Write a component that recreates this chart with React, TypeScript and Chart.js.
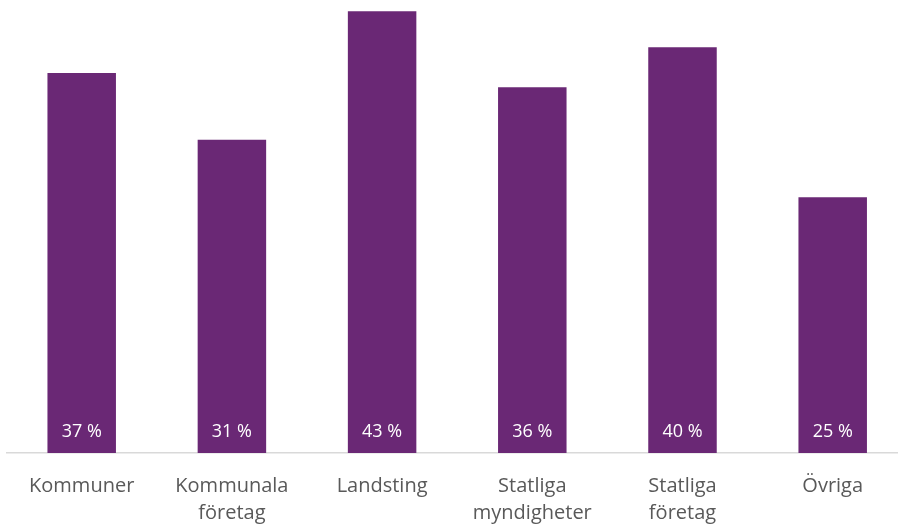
import React, { useEffect, useRef } from "react";
import { Chart, registerables } from "chart.js";

Chart.register(...registerables);

const categories: string[][] = [
  ["Kommuner"],
  ["Kommunala", "företag"],
  ["Landsting"],
  ["Statliga", "myndigheter"],
  ["Statliga", "företag"],
  ["Övriga"],
];
const shares: number[] = [37, 30.5, 43, 35.6, 39.5, 24.9];
const yMax = 44;

const barColor = "#6A2875";
const textGray = "#595959";
const fontFamily = "'Open Sans', 'DejaVu Sans', sans-serif";

const valueLabels = {
  id: "valueLabels",
  afterDatasetsDraw(chart: any) {
    const ctx = chart.ctx;
    const meta = chart.getDatasetMeta(0);
    ctx.save();
    ctx.fillStyle = "#FFFFFF";
    ctx.font = `18px ${fontFamily}`;
    ctx.textAlign = "center";
    ctx.textBaseline = "alphabetic";
    meta.data.forEach((bar: any, i: number) => {
      const v = chart.data.datasets[0].data[i] as number;
      ctx.fillText(`${Math.round(v)} %`, bar.x, bar.base - 16);
    });
    ctx.restore();
  },
};

export default function App() {
  const ref = useRef<HTMLCanvasElement | null>(null);
  useEffect(() => {
    if (!ref.current) return;
    const chart = new Chart(ref.current, {
      type: "bar",
      data: {
        labels: categories,
        datasets: [
          {
            data: shares,
            backgroundColor: barColor,
            borderWidth: 0,
            categoryPercentage: 1,
            barPercentage: 0.456,
          },
        ],
      },
      options: {
        animation: false,
        responsive: false,
        devicePixelRatio: 1,
        layout: { padding: { left: 6.6, right: 2.2, top: 1, bottom: 0 } },
        plugins: { legend: { display: false }, tooltip: { enabled: false } },
        scales: {
          x: {
            grid: { display: false, drawTicks: false },
            border: { display: true, color: "#D9D9D9", width: 1.5 },
            ticks: {
              color: textGray,
              font: { family: fontFamily, size: 20, lineHeight: 1.35 },
              padding: 20,
              maxRotation: 0,
              autoSkip: false,
            },
            afterFit: (scale: any) => {
              scale.height = 73;
            },
          },
          y: {
            display: false,
            min: 0,
            max: yMax,
          },
        },
      },
      plugins: [valueLabels],
    });
    return () => chart.destroy();
  }, []);
  return (
    <div
      style={{
        position: "absolute",
        left: 0,
        top: 0,
        width: 898,
        height: 526,
        overflow: "hidden",
        background: "#FFFFFF",
      }}
    >
      <canvas ref={ref} width={910} height={526} style={{ display: "block" }} />
    </div>
  );
}
